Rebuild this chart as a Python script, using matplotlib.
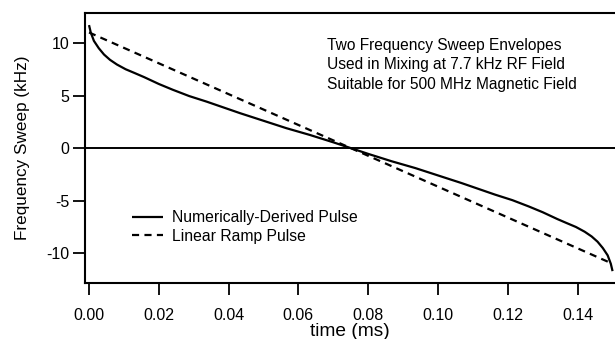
import matplotlib
matplotlib.use("Agg")
import matplotlib.pyplot as plt

plt.rcParams['font.family'] = ['Liberation Sans', 'DejaVu Sans']

# Numerically-derived frequency sweep envelope (kHz) vs time (ms)
time_num = [0.0, 0.0005, 0.0014, 0.0028, 0.0043, 0.006, 0.008, 0.0105, 0.013,
            0.0158, 0.02, 0.024, 0.0287, 0.0337, 0.0385, 0.0433, 0.05, 0.0565,
            0.0633, 0.07, 0.075, 0.08, 0.0867, 0.0935, 0.1, 0.1067, 0.1115,
            0.1163, 0.1213, 0.126, 0.13, 0.1342, 0.137, 0.1395, 0.142, 0.144,
            0.1457, 0.1472, 0.1486, 0.1495, 0.15]
sweep_num = [11.7, 11.0, 10.2, 9.5, 8.9, 8.4, 7.95, 7.5, 7.15,
             6.75, 6.1, 5.55, 4.95, 4.42, 3.87, 3.32, 2.6, 1.9,
             1.25, 0.55, 0.0, -0.55, -1.25, -1.9, -2.6, -3.32, -3.87,
             -4.42, -4.95, -5.55, -6.1, -6.75, -7.15, -7.5, -7.95, -8.4,
             -8.9, -9.5, -10.2, -11.0, -11.7]

# Linear ramp envelope
time_lin = [0.0, 0.15]
sweep_lin = [11.0, -11.0]

x_ticks = [0.00, 0.02, 0.04, 0.06, 0.08, 0.10, 0.12, 0.14]
x_tick_labels = ["0.00", "0.02", "0.04", "0.06", "0.08", "0.10", "0.12", "0.14"]
y_ticks = [-10, -5, 0, 5, 10]
y_tick_labels = ["-10", "-5", "0", "5", "10"]

fig = plt.figure(figsize=(6.15, 3.39), dpi=100)
ax = fig.add_axes([85 / 615, 1 - 282.7 / 339, 1 - 85 / 615, (282.7 - 13) / 339])

ax.axhline(0, color='black', lw=1.4, zorder=1)
ax.plot(time_num, sweep_num, color='black', lw=1.6, label='Numerically-Derived Pulse',
        solid_capstyle='butt')
ax.plot(time_lin, sweep_lin, color='black', lw=1.6, ls=(0, (3.2, 2.4)),
        label='Linear Ramp Pulse')

ax.set_xlim(-0.00115, 0.1507)
ax.set_ylim(-12.8, 12.85)
ax.set_xticks(x_ticks)
ax.set_xticklabels(x_tick_labels)
ax.set_yticks(y_ticks)
ax.set_yticklabels(y_tick_labels)

for side in ['left', 'top', 'bottom']:
    ax.spines[side].set_linewidth(1.5)
ax.spines['right'].set_visible(False)

ax.tick_params(axis='both', direction='out', length=8.5, width=1.3, labelsize=11.5,
               color='black')
ax.tick_params(axis='x', pad=9.5)
ax.tick_params(axis='y', pad=3)

ax.set_xlabel('time (ms)', fontsize=13.8, labelpad=0)
ax.set_ylabel('Frequency Sweep (kHz)', fontsize=12.3, labelpad=11.5)

ax.text(326.7 / 615, 1 - 38 / 339,
        'Two Frequency Sweep Envelopes\nUsed in Mixing at 7.7 kHz RF Field\nSuitable for 500 MHz Magnetic Field',
        transform=fig.transFigure, fontsize=11.2, va='top', ha='left', linespacing=1.36)

leg = ax.legend(loc='center left', bbox_to_anchor=((131.7 - 85) / 530, (282.7 - 227) / 269.7),
                frameon=False, fontsize=11.3, handlelength=2.0, handletextpad=0.56,
                labelspacing=0.25, borderaxespad=0, borderpad=0)

fig.savefig('out.png', dpi=100)
